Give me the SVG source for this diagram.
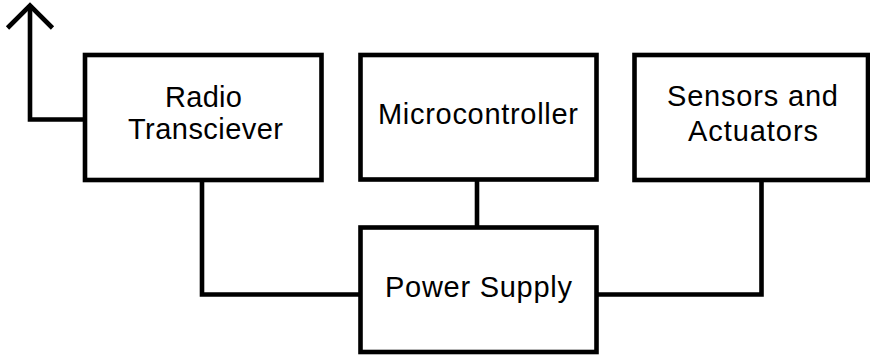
<svg xmlns="http://www.w3.org/2000/svg" width="870" height="356" viewBox="0 0 870 356">
<style>
.box{fill:#fff;stroke:#000;stroke-width:4.6}
.wire{fill:none;stroke:#000;stroke-width:4.6}
.lbl{font-family:"Liberation Sans",Arial,sans-serif;font-size:29px;fill:#000;text-anchor:middle}
</style>
<rect width="870" height="356" fill="#fff"/>
<g id="connectors">
<path class="wire" d="M85 119.5 H30 V6"/>
<polyline class="wire" points="7.5,28 30,5.5 52.5,28"/>
<path class="wire" d="M202 180 V294.5 H360.5"/>
<path class="wire" d="M477 179.5 V227.5"/>
<path class="wire" d="M761.5 180 V294.5 H596.5"/>
</g>
<g id="radio">
<rect class="box" x="85" y="55" width="236.5" height="125"/>
<text class="lbl" x="203.5" y="107" textLength="77" lengthAdjust="spacing">Radio</text>
<text class="lbl" x="205.5" y="139" textLength="155" lengthAdjust="spacing">Transciever</text>
</g>
<g id="microcontroller">
<rect class="box" x="360.5" y="55" width="236" height="124.5"/>
<text class="lbl" x="478" y="124" textLength="200" lengthAdjust="spacing">Microcontroller</text>
</g>
<g id="sensors">
<rect class="box" x="634.5" y="55" width="233.5" height="125"/>
<text class="lbl" x="752.5" y="106" textLength="171" lengthAdjust="spacing">Sensors and</text>
<text class="lbl" x="753" y="141" textLength="130" lengthAdjust="spacing">Actuators</text>
</g>
<g id="power">
<rect class="box" x="360.5" y="227.5" width="236" height="124.5"/>
<text class="lbl" x="478.5" y="297" textLength="187" lengthAdjust="spacing">Power Supply</text>
</g>
</svg>
